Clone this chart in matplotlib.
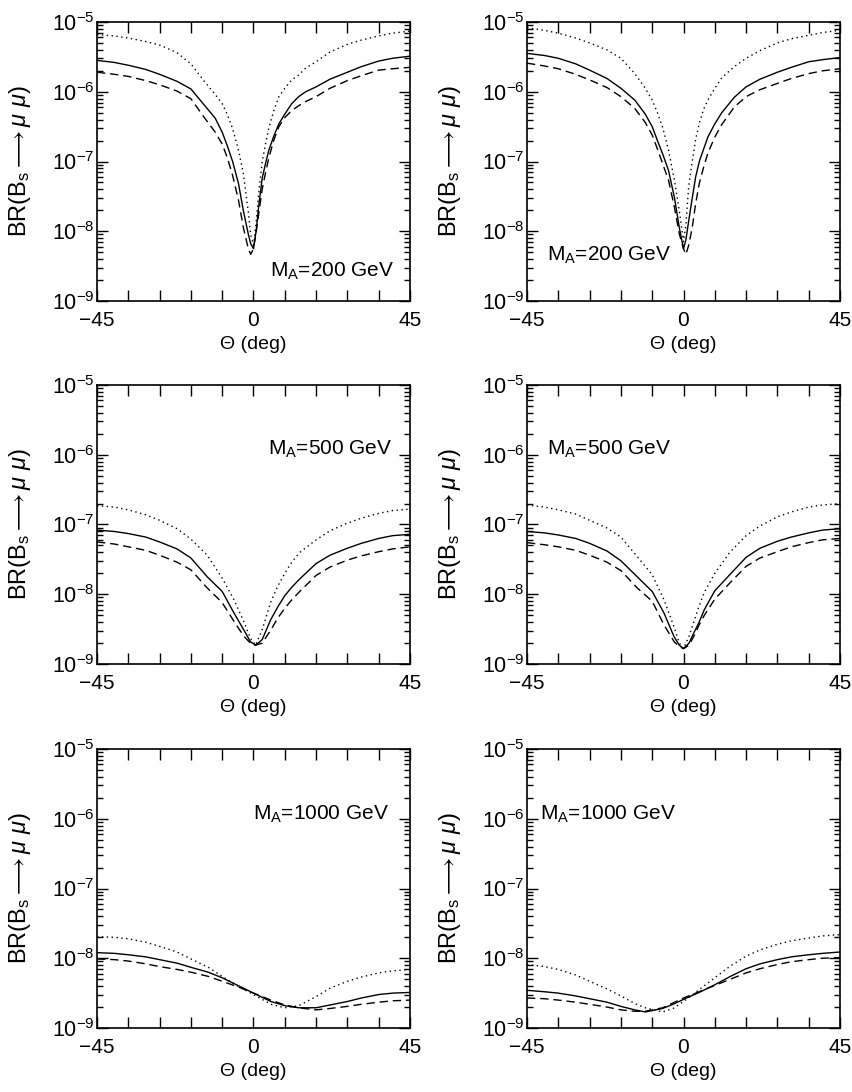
import numpy as np
import matplotlib
matplotlib.use("Agg")
import matplotlib.pyplot as plt
from matplotlib.ticker import NullFormatter, FixedLocator, FixedFormatter

plt.rcParams['font.family'] = ['Liberation Sans', 'DejaVu Sans']
plt.rcParams['mathtext.fontset'] = 'custom'
plt.rcParams['mathtext.rm'] = 'Liberation Sans'
plt.rcParams['mathtext.it'] = 'Liberation Sans:italic'
plt.rcParams['mathtext.bf'] = 'Liberation Sans:bold'

# values are log10(BR)
# M_A = 200 GeV, left
th_200a = [-45, -40, -36, -31, -27, -22, -18, -14, -11, -9, -7.5, -6, -4.3, -2.9, -1.5, -0.8, 0, 0.8, 1.5, 2.5, 3.5, 4.4, 5.8, 7.3, 9, 11, 13, 15, 18, 22, 27, 31, 36, 40, 45]
sol_200a = [-5.55, -5.58, -5.62, -5.68, -5.75, -5.85, -5.96, -6.2, -6.38, -6.58, -6.78, -7.0, -7.32, -7.71, -8.04, -8.18, -8.25, -7.98, -7.64, -7.24, -7.02, -6.84, -6.64, -6.46, -6.32, -6.17, -6.07, -6.0, -5.93, -5.82, -5.72, -5.64, -5.56, -5.52, -5.49]
das_200a = [-5.72, -5.75, -5.78, -5.84, -5.9, -5.99, -6.1, -6.38, -6.58, -6.75, -6.95, -7.2, -7.56, -7.95, -8.25, -8.33, -8.25, -8.0, -7.75, -7.4, -7.15, -6.95, -6.7, -6.5, -6.37, -6.27, -6.2, -6.14, -6.07, -5.95, -5.84, -5.77, -5.69, -5.67, -5.65]
dot_200a = [-5.18, -5.2, -5.23, -5.28, -5.33, -5.44, -5.6, -5.86, -6.04, -6.17, -6.33, -6.53, -6.84, -7.18, -7.72, -8.05, -8.2, -7.85, -7.45, -7.0, -6.74, -6.52, -6.28, -6.07, -5.95, -5.83, -5.76, -5.66, -5.57, -5.43, -5.32, -5.26, -5.2, -5.16, -5.13]

# M_A = 200 GeV, right
th_200b = [-45, -40, -36, -31, -27, -22, -18, -14, -11, -9, -7.5, -6, -4.3, -2.6, -1.2, 0, 0.7, 1.5, 2.5, 3.5, 4.6, 5.8, 7, 9, 11, 14.6, 18, 22, 27, 31, 36, 40, 45]
sol_200b = [-5.45, -5.48, -5.52, -5.6, -5.69, -5.81, -5.95, -6.12, -6.32, -6.5, -6.7, -6.89, -7.13, -7.52, -7.95, -8.25, -8.12, -7.85, -7.53, -7.22, -6.99, -6.82, -6.65, -6.46, -6.3, -6.08, -5.93, -5.82, -5.72, -5.65, -5.57, -5.54, -5.51]
das_200b = [-5.59, -5.63, -5.67, -5.75, -5.83, -5.94, -6.07, -6.24, -6.44, -6.62, -6.82, -7.03, -7.27, -7.66, -8.04, -8.25, -8.33, -8.2, -7.95, -7.6, -7.3, -7.08, -6.88, -6.65, -6.47, -6.22, -6.07, -5.97, -5.88, -5.81, -5.74, -5.7, -5.67]
dot_200b = [-5.08, -5.12, -5.16, -5.23, -5.3, -5.4, -5.52, -5.74, -5.95, -6.12, -6.3, -6.51, -6.84, -7.27, -7.71, -8.15, -7.9, -7.35, -7.0, -6.68, -6.44, -6.25, -6.12, -5.95, -5.8, -5.64, -5.52, -5.41, -5.3, -5.24, -5.19, -5.15, -5.12]

# M_A = 500 GeV, left
th_500a = [-45, -40, -36, -31, -27, -22, -18, -13.3, -9, -5.6, -2.8, -0.9, 0.6, 2.5, 4.9, 7, 9, 11, 13.3, 18, 22, 27, 31, 36, 40, 45]
sol_500a = [-7.08, -7.1, -7.13, -7.18, -7.25, -7.35, -7.48, -7.75, -7.96, -8.27, -8.51, -8.68, -8.73, -8.65, -8.37, -8.18, -8.02, -7.9, -7.78, -7.56, -7.44, -7.34, -7.27, -7.2, -7.16, -7.14]
das_500a = [-7.25, -7.28, -7.32, -7.37, -7.44, -7.54, -7.65, -7.91, -8.12, -8.39, -8.6, -8.7, -8.73, -8.7, -8.52, -8.34, -8.2, -8.08, -7.96, -7.73, -7.61, -7.51, -7.45, -7.39, -7.35, -7.32]
dot_500a = [-6.73, -6.75, -6.79, -6.86, -6.94, -7.06, -7.21, -7.44, -7.77, -8.08, -8.39, -8.63, -8.73, -8.51, -8.12, -7.88, -7.7, -7.54, -7.4, -7.22, -7.09, -6.98, -6.91, -6.84, -6.8, -6.78]

# M_A = 500 GeV, right
th_500b = [-45, -40, -36, -31, -27, -22, -18, -13.3, -9, -5.6, -2.7, -1.2, 0, 1.6, 3, 4.4, 6, 9, 13.3, 18, 22, 27, 31, 36, 40, 45]
sol_500b = [-7.1, -7.12, -7.15, -7.2, -7.27, -7.38, -7.52, -7.75, -7.96, -8.27, -8.61, -8.73, -8.78, -8.7, -8.55, -8.41, -8.22, -7.95, -7.72, -7.47, -7.34, -7.24, -7.18, -7.12, -7.08, -7.06]
das_500b = [-7.26, -7.29, -7.32, -7.37, -7.44, -7.54, -7.66, -7.91, -8.1, -8.44, -8.68, -8.75, -8.78, -8.73, -8.6, -8.45, -8.3, -8.07, -7.84, -7.6, -7.48, -7.39, -7.32, -7.26, -7.22, -7.2]
dot_500b = [-6.72, -6.75, -6.79, -6.85, -6.94, -7.05, -7.18, -7.46, -7.72, -8.08, -8.47, -8.7, -8.78, -8.6, -8.39, -8.18, -7.97, -7.7, -7.4, -7.16, -7.02, -6.89, -6.82, -6.75, -6.72, -6.7]

# M_A = 1000 GeV, left
th_1000a = [-45, -40, -36, -31, -27, -22, -18, -13, -9, -4.5, 0, 5, 9, 13, 18, 22, 27, 31, 36, 40, 45]
sol_1000a = [-7.92, -7.93, -7.95, -7.98, -8.02, -8.07, -8.13, -8.2, -8.28, -8.39, -8.5, -8.62, -8.68, -8.71, -8.71, -8.67, -8.62, -8.57, -8.52, -8.5, -8.49]
das_1000a = [-8.01, -8.02, -8.04, -8.08, -8.12, -8.16, -8.2, -8.26, -8.33, -8.41, -8.5, -8.6, -8.67, -8.71, -8.74, -8.72, -8.69, -8.66, -8.63, -8.61, -8.6]
dot_1000a = [-7.69, -7.7, -7.72, -7.77, -7.83, -7.91, -8.01, -8.13, -8.26, -8.4, -8.52, -8.66, -8.71, -8.68, -8.55, -8.43, -8.33, -8.27, -8.21, -8.18, -8.16]

# M_A = 1000 GeV, right
th_1000b = [-45, -40, -36, -31, -27, -22, -18, -14, -11, -6, -3, 0, 4.5, 9, 13.5, 18, 22, 27, 31, 36, 40, 45]
sol_1000b = [-8.46, -8.48, -8.5, -8.54, -8.58, -8.63, -8.69, -8.74, -8.77, -8.72, -8.66, -8.59, -8.49, -8.38, -8.26, -8.15, -8.08, -8.02, -7.98, -7.95, -7.93, -7.91]
das_1000b = [-8.57, -8.58, -8.6, -8.63, -8.66, -8.7, -8.74, -8.76, -8.76, -8.71, -8.64, -8.57, -8.48, -8.39, -8.3, -8.21, -8.15, -8.09, -8.05, -8.02, -8.0, -7.99]
dot_1000b = [-8.09, -8.12, -8.16, -8.24, -8.33, -8.44, -8.54, -8.65, -8.71, -8.77, -8.72, -8.62, -8.45, -8.28, -8.11, -7.97, -7.88, -7.8, -7.75, -7.71, -7.68, -7.66]

labels = ['M$_\\mathrm{A}$=200 GeV', 'M$_\\mathrm{A}$=200 GeV',
          'M$_\\mathrm{A}$=500 GeV', 'M$_\\mathrm{A}$=500 GeV',
          'M$_\\mathrm{A}$=1000 GeV', 'M$_\\mathrm{A}$=1000 GeV']

xmajor = [-45, 0, 45]
xmajor_labels = ['\u221245', '0', '45']
xminor = [-36, -27, -18, -9, 9, 18, 27, 36]
ymajor = [1e-9, 1e-8, 1e-7, 1e-6, 1e-5]
ymajor_labels = [r'$10^{-9}$', r'$10^{-8}$', r'$10^{-7}$', r'$10^{-6}$', r'$10^{-5}$']
yminor = [m * 10.0 ** e for e in range(-9, -5) for m in range(2, 10)]

panels = [
    (th_200a, sol_200a, das_200a, dot_200a),
    (th_200b, sol_200b, das_200b, dot_200b),
    (th_500a, sol_500a, das_500a, dot_500a),
    (th_500b, sol_500b, das_500b, dot_500b),
    (th_1000a, sol_1000a, das_1000a, dot_1000a),
    (th_1000b, sol_1000b, das_1000b, dot_1000b),
]

W, H = 852., 1092.
lefts = [97, 527]
tops = [22, 385, 749]
# label placement (x frac, y frac, ha)
txtpos = [(0.949, 0.086, 'right'), (0.063, 0.144, 'left'),
          (0.944, 0.749, 'right'), (0.063, 0.749, 'left'),
          (0.934, 0.748, 'right'), (0.042, 0.748, 'left')]

fig = plt.figure(figsize=(W / 100, H / 100), dpi=100)

for i, (th, s, d, o) in enumerate(panels):
    r, c = divmod(i, 2)
    ax = fig.add_axes([lefts[c] / W, 1 - (tops[r] + 279) / H, 313 / W, 279 / H])
    th = np.array(th)
    ax.plot(th, 10 ** np.array(s), color='k', lw=1.0, ls='-')
    ax.plot(th, 10 ** np.array(d), color='k', lw=1.0, ls=(0, (6, 3.5)))
    ax.plot(th, 10 ** np.array(o), color='k', lw=1.0, ls=(0, (1, 2.5)))
    ax.set_yscale('log')
    ax.set_xlim(-45, 45)
    ax.set_ylim(1e-9, 1e-5)
    ax.xaxis.set_major_locator(FixedLocator(xmajor))
    ax.xaxis.set_major_formatter(FixedFormatter(xmajor_labels))
    ax.xaxis.set_minor_locator(FixedLocator(xminor))
    ax.xaxis.set_minor_formatter(NullFormatter())
    ax.yaxis.set_major_locator(FixedLocator(ymajor))
    ax.yaxis.set_major_formatter(FixedFormatter(ymajor_labels))
    ax.yaxis.set_minor_locator(FixedLocator(yminor))
    ax.yaxis.set_minor_formatter(NullFormatter())
    ax.tick_params(which='both', direction='in', top=True, right=True, width=1.0)
    ax.tick_params(which='major', length=8)
    ax.tick_params(axis='x', which='minor', length=8, labelbottom=False)
    ax.tick_params(axis='y', which='minor', length=4, labelleft=False)
    ax.tick_params(axis='y', labelsize=15.5, pad=2)
    ax.tick_params(axis='x', labelsize=15, pad=7.5)
    for sp in ax.spines.values():
        sp.set_linewidth(1.2)
    ax.set_xlabel('\u0398 (deg)', fontsize=14, labelpad=4)
    ax.set_ylabel(r'BR(B$_\mathrm{s}$$\longrightarrow$$\mu$ $\mu$)', fontsize=17)
    ax.yaxis.set_label_coords(-0.205, 0.5)
    tx, ty, ha = txtpos[i]
    ax.text(tx, ty, labels[i], transform=ax.transAxes, fontsize=15, ha=ha, va='baseline')

fig.savefig('out.png', dpi=100)
